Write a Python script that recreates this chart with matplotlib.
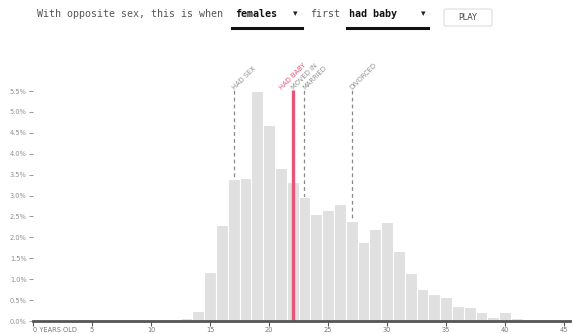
import matplotlib
matplotlib.use("Agg")
import matplotlib.pyplot as plt
from matplotlib.patches import FancyBboxPatch

ages = list(range(13, 42))
pct = [0.07, 0.24, 1.18, 2.30, 3.40, 3.43, 5.51, 4.69, 3.67, 3.32, 2.97, 2.57, 2.66,
       2.79, 2.38, 1.88, 2.19, 2.37, 1.67, 1.14, 0.77, 0.65, 0.57, 0.35, 0.33, 0.22,
       0.10, 0.21, 0.07]

event_names = ["HAD SEX", "MOVED IN", "MARRIED", "DIVORCED"]
event_ages = [17, 22, 23, 27]
selected_name = "HAD BABY"
selected_age = 22

yticks = [0, 0.5, 1.0, 1.5, 2.0, 2.5, 3.0, 3.5, 4.0, 4.5, 5.0, 5.5]
ytick_labels = ["%.1f%%" % v for v in yticks]
xticks = [0, 5, 10, 15, 20, 25, 30, 35, 40, 45]
xtick_labels = ["0 YEARS OLD"] + [str(v) for v in xticks[1:]]

W, H = 574, 334
fig = plt.figure(figsize=(W / 100, H / 100), dpi=100)
left, right = 33, 33 + 45.5 * 11.8
bottom_px, top_px = 321, 91
ax = fig.add_axes([left / W, (H - bottom_px) / H, (right - left) / W, (bottom_px - top_px) / H])
ax.set_xlim(0, 45.5)
ax.set_ylim(0, 5.5)

RED = "#e6557a"
GRAY_TXT = "#8f8f8f"

ax.bar(ages, pct, width=1.0, color="#e0e0e0", edgecolor="white", linewidth=0.8, zorder=2)

top = 5.52
for name, a in zip(event_names, event_ages):
    ax.plot([a, a], [0, top], color="#888888", lw=0.9, ls=(0, (3, 2.5)), zorder=1, clip_on=False)
    ax.text(a - 0.02, top + 0.04, name, rotation=45, rotation_mode="anchor", ha="left", va="center",
            fontsize=4.9, color=GRAY_TXT, family="DejaVu Sans")
ax.plot([selected_age, selected_age], [0, top], color=RED, lw=2.4, zorder=3, clip_on=False,
        solid_capstyle="butt")
ax.text(selected_age - 1.0, top + 0.04, selected_name, rotation=45, rotation_mode="anchor",
        ha="left", va="center", fontsize=4.9, color=RED, family="DejaVu Sans")

for s in ["left", "right", "top"]:
    ax.spines[s].set_visible(False)
ax.spines["bottom"].set_color("#555555")
ax.spines["bottom"].set_linewidth(2)
ax.spines["bottom"].set_zorder(4)

ax.set_yticks(yticks)
ax.set_yticklabels(ytick_labels)
ax.tick_params(axis="y", length=3, width=0.7, color="#999999", pad=1.5, labelsize=4.8,
               labelcolor=GRAY_TXT)
ax.set_xticks(xticks)
ax.set_xticklabels(xtick_labels)
ax.tick_params(axis="x", length=3.5, width=0.8, color="#555555", pad=1, labelsize=4.8,
               labelcolor="#777777")
xl = ax.get_xticklabels()
xl[0].set_ha("left")

# Header
mono = "DejaVu Sans Mono"
fy = 1 - 17 / H
fs = 7.2
fig.text(37 / W, fy, "With opposite sex, this is when", fontsize=fs, family=mono,
         color="#555555", va="baseline")
fig.text(235 / W, fy, "females", fontsize=fs, family=mono, color="#111111",
         weight="bold", va="baseline")
fig.text(295 / W, fy + 0.004, "\u25BE", fontsize=6.5, family="DejaVu Sans", color="#222222",
         va="baseline", ha="center")
fig.text(310 / W, fy, "first", fontsize=fs, family=mono, color="#555555", va="baseline")
fig.text(349 / W, fy, "had baby", fontsize=fs, family=mono, color="#111111",
         weight="bold", va="baseline")
fig.text(423 / W, fy + 0.004, "\u25BE", fontsize=6.5, family="DejaVu Sans", color="#222222",
         va="baseline", ha="center")
uy = 1 - 28 / H
fig.add_artist(plt.Line2D([232 / W, 302 / W], [uy, uy], color="#111111", lw=2.2))
fig.add_artist(plt.Line2D([347 / W, 428 / W], [uy, uy], color="#111111", lw=2.2))
btn = FancyBboxPatch((444 / W, 1 - 26 / H), 48 / W, 17 / H,
                     boxstyle="round,pad=0,rounding_size=0.005", transform=fig.transFigure,
                     facecolor="white", edgecolor="#dddddd", lw=0.8)
fig.add_artist(btn)
fig.text(468 / W, 1 - 17.5 / H, "PLAY", fontsize=5.8, family="DejaVu Sans", color="#444444",
         ha="center", va="center")

fig.savefig("out.png", dpi=100)
